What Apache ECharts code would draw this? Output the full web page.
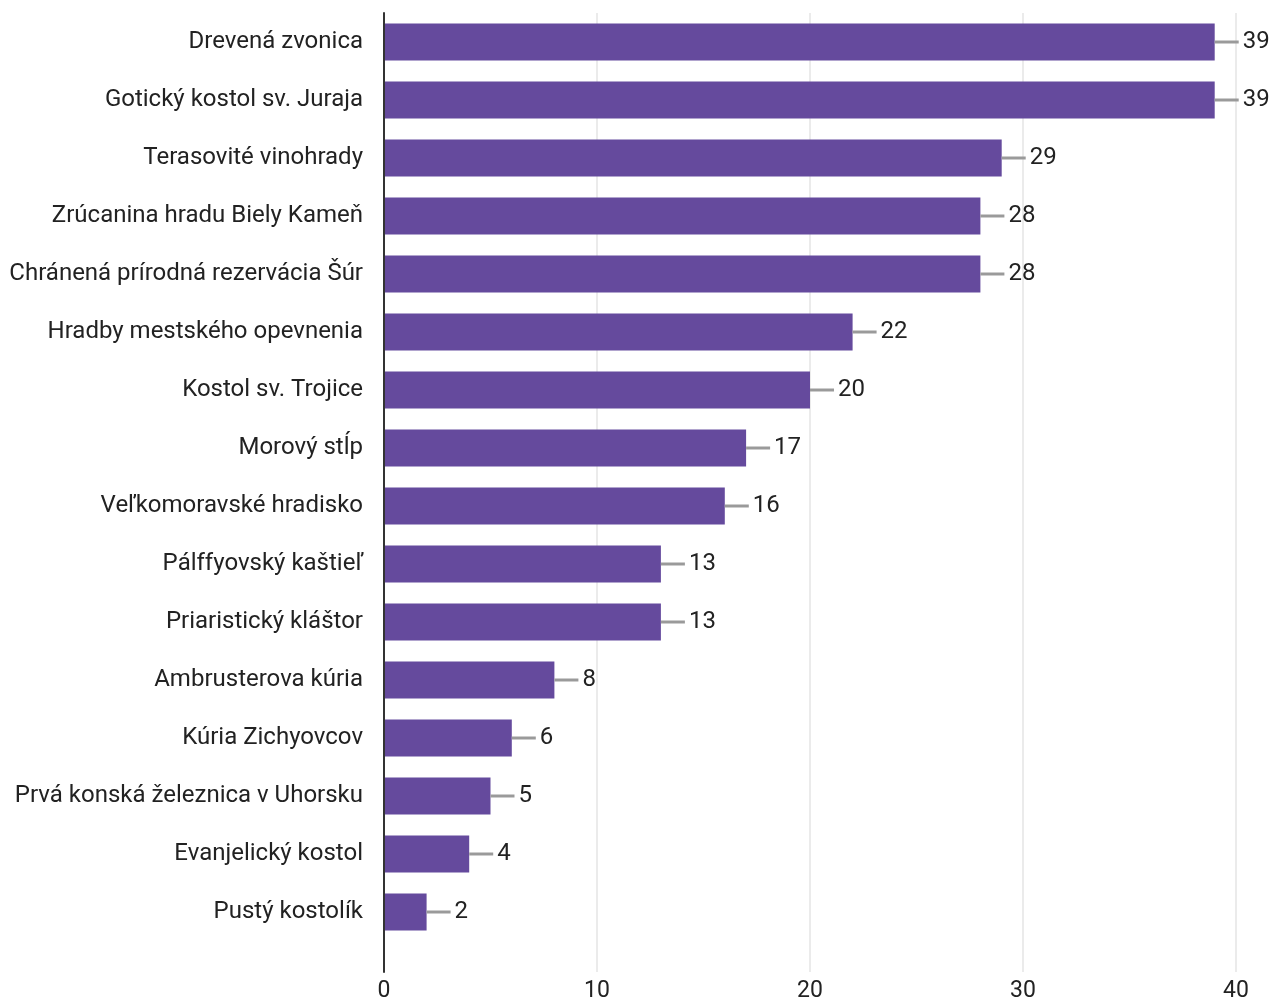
<!DOCTYPE html>
<html>
<head>
<meta charset="utf-8">
<script src="https://cdn.jsdelivr.net/npm/echarts@6/dist/echarts.min.js"></script>
<style>
  html, body { margin: 0; padding: 0; background: #fff; }
  #chart { width: 1273px; height: 1003px; }
</style>
</head>
<body>
<div id="chart"></div>
<script>
// Places and number of votes
const categories = [
  'Drevená zvonica',
  'Gotický kostol sv. Juraja',
  'Terasovité vinohrady',
  'Zrúcanina hradu Biely Kameň',
  'Chránená prírodná rezervácia Šúr',
  'Hradby mestského opevnenia',
  'Kostol sv. Trojice',
  'Morový stĺp',
  'Veľkomoravské hradisko',
  'Pálffyovský kaštieľ',
  'Priaristický kláštor',
  'Ambrusterova kúria',
  'Kúria Zichyovcov',
  'Prvá konská železnica v Uhorsku',
  'Evanjelický kostol',
  'Pustý kostolík'
];
const votes = [39, 39, 29, 28, 28, 22, 20, 17, 16, 13, 13, 8, 6, 5, 4, 2];
const axisTicks = [0, 10, 20, 30, 40];

const FONT = 'Roboto, "Noto Sans", sans-serif';
const gridLeft = 384, gridRight = 37, gridTop = 13;

const chart = echarts.init(document.getElementById('chart'));
chart.setOption({
  animation: false,
  backgroundColor: '#ffffff',
  textStyle: { fontFamily: FONT },
  grid: [
    // bars
    { left: gridLeft, right: gridRight, top: gridTop, bottom: 62, containLabel: false },
    // frame: value axis, gridlines and the vertical base line
    { left: gridLeft, right: gridRight, top: gridTop, bottom: 31, containLabel: false }
  ],
  xAxis: [
    {
      gridIndex: 0, type: 'value',
      min: axisTicks[0], max: axisTicks[axisTicks.length - 1], interval: 10,
      axisLine: { show: false }, axisTick: { show: false },
      axisLabel: { show: false }, splitLine: { show: false }
    },
    {
      gridIndex: 1, type: 'value',
      min: axisTicks[0], max: axisTicks[axisTicks.length - 1], interval: 10,
      axisLine: { show: false }, axisTick: { show: false },
      axisLabel: { color: '#222', fontSize: 23, fontFamily: FONT, margin: 8 },
      splitLine: { show: true, lineStyle: { color: '#ebebeb', width: 2 } }
    }
  ],
  yAxis: [
    {
      gridIndex: 0, type: 'category', data: categories, inverse: true,
      axisLine: { show: false }, axisTick: { show: false },
      axisLabel: { color: '#222', fontSize: 24, fontFamily: FONT, margin: 21, padding: [4, 0, 0, 0] }
    },
    {
      gridIndex: 1, type: 'value', min: 0, max: 1, z: 5,
      axisLine: { show: true, lineStyle: { color: '#333', width: 2 } },
      axisTick: { show: false }, axisLabel: { show: false },
      splitLine: { show: false }
    }
  ],
  series: [{
    type: 'bar',
    xAxisIndex: 0, yAxisIndex: 0,
    data: votes,
    barWidth: 37,
    itemStyle: { color: '#654a9d' },
    label: {
      show: true,
      position: 'right',
      distance: 0,
      formatter: '{l|}{v|{c}}',
      rich: {
        l: { width: 24, height: 3, backgroundColor: '#9a9a9a' },
        v: { color: '#222', fontSize: 24, fontFamily: FONT, padding: [0, 0, 0, 4] }
      }
    }
  }]
});
</script>
</body>
</html>
